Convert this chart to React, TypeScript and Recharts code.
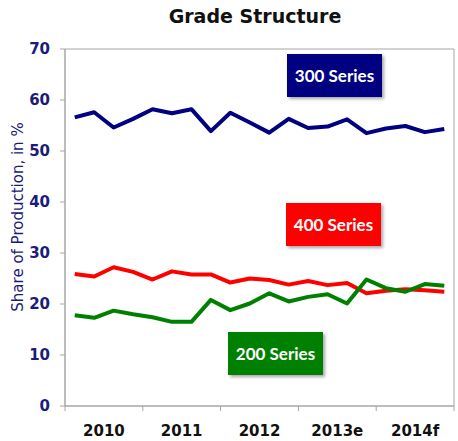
import { LineChart, Line, XAxis, YAxis, ReferenceArea } from 'recharts';

// Quarterly shares of production, 2010 - 2014f (20 quarters)
const years = ['2010', '2011', '2012', '2013e', '2014f'];
const yTicks = [0, 10, 20, 30, 40, 50, 60, 70];

const series300 = [
  56.6, 57.6, 54.6, 56.3, 58.2, 57.4, 58.2, 53.9, 57.5, 55.6,
  53.6, 56.3, 54.5, 54.8, 56.2, 53.5, 54.4, 54.9, 53.7, 54.3,
];
const series400 = [
  25.9, 25.4, 27.2, 26.3, 24.8, 26.4, 25.8, 25.8, 24.2, 25.0,
  24.7, 23.8, 24.5, 23.7, 24.1, 22.1, 22.6, 22.9, 22.7, 22.4,
];
const series200 = [
  17.8, 17.3, 18.7, 18.0, 17.4, 16.5, 16.5, 20.8, 18.8, 20.1,
  22.1, 20.5, 21.4, 21.9, 20.1, 24.8, 23.1, 22.4, 23.9, 23.6,
];

const data = series300.map((v, i) => ({
  q: i + 0.5,
  s300: v,
  s400: series400[i],
  s200: series200[i],
}));

const W = 458;
const H = 441;
const PLOT_LEFT = 65;
const PLOT_RIGHT = 4;
const BAND = (W - PLOT_LEFT - PLOT_RIGHT) / years.length;

const NAVY = '#000080';
const RED = '#ff0000';
const GREEN = '#008000';
const AXIS_GRAY = '#a6a6a6';
const TICK_FONT = '"DejaVu Sans", sans-serif';

// Year labels sit in the middle of each 4-quarter band
function YearTick({ x, y, payload }: any) {
  const idx = payload.value / 4;
  if (idx >= years.length) return <g />;
  return (
    <text
      x={x + BAND / 2}
      y={y}
      dy="0.71em"
      textAnchor="middle"
      fill="#111"
      fontSize={15}
      fontWeight="bold"
      fontFamily={TICK_FONT}
    >
      {years[idx]}
    </text>
  );
}

function SeriesTag({ left, top, bg, text }: { left: number; top: number; bg: string; text: string }) {
  return (
    <div
      style={{
        position: 'absolute',
        left,
        top,
        width: 95,
        height: 43,
        background: bg,
        color: '#fff',
        fontFamily: 'Lato, sans-serif',
        fontWeight: 'bold',
        fontSize: 17,
        display: 'flex',
        alignItems: 'center',
        justifyContent: 'center',
        boxShadow: '2px 2px 3px rgba(0,0,0,0.35)',
      }}
    >
      {text}
    </div>
  );
}

export default function App() {
  return (
    <div style={{ position: 'absolute', left: 0, top: 0, width: W, height: H, background: '#fff' }}>
      <div
        style={{
          position: 'absolute',
          left: 0,
          top: 5,
          width: 510,
          textAlign: 'center',
          fontFamily: TICK_FONT,
          fontWeight: 'bold',
          fontSize: 19,
          color: '#111',
        }}
      >
        Grade Structure
      </div>

      <div
        style={{
          position: 'absolute',
          left: 18 - 120,
          top: 217 - 10,
          width: 240,
          height: 20,
          lineHeight: '20px',
          textAlign: 'center',
          transform: 'rotate(-90deg)',
          fontFamily: TICK_FONT,
          fontSize: 15,
          color: '#1c1c78',
        }}
      >
        Share of Production, in %
      </div>

      <LineChart
        width={W}
        height={H}
        data={data}
        margin={{ top: 49, right: PLOT_RIGHT, left: 0, bottom: 0 }}
        style={{ position: 'absolute', left: 0, top: 0 }}
      >
        <ReferenceArea x1={0} x2={20} y1={0} y2={70} fill="none" stroke={AXIS_GRAY} strokeWidth={1} />
        <XAxis
          type="number"
          dataKey="q"
          domain={[0, 20]}
          ticks={[0, 4, 8, 12, 16, 20]}
          height={35}
          tickSize={5}
          tickMargin={14}
          stroke={AXIS_GRAY}
          tick={<YearTick />}
          interval={0}
        />
        <YAxis
          domain={[0, 70]}
          ticks={yTicks}
          width={PLOT_LEFT}
          tickSize={5}
          tickMargin={10}
          stroke={AXIS_GRAY}
          interval={0}
          tick={{ fill: '#1c1c78', fontSize: 15, fontWeight: 'bold', fontFamily: TICK_FONT }}
        />
        <Line type="linear" dataKey="s300" stroke={NAVY} strokeWidth={4} dot={false} strokeLinejoin="round" isAnimationActive={false} />
        <Line type="linear" dataKey="s400" stroke={RED} strokeWidth={4} dot={false} strokeLinejoin="round" isAnimationActive={false} />
        <Line type="linear" dataKey="s200" stroke={GREEN} strokeWidth={4} dot={false} strokeLinejoin="round" isAnimationActive={false} />
      </LineChart>

      <SeriesTag left={287} top={54} bg={NAVY} text="300 Series" />
      <SeriesTag left={286} top={203} bg={RED} text="400 Series" />
      <SeriesTag left={228} top={332} bg={GREEN} text="200 Series" />
    </div>
  );
}
